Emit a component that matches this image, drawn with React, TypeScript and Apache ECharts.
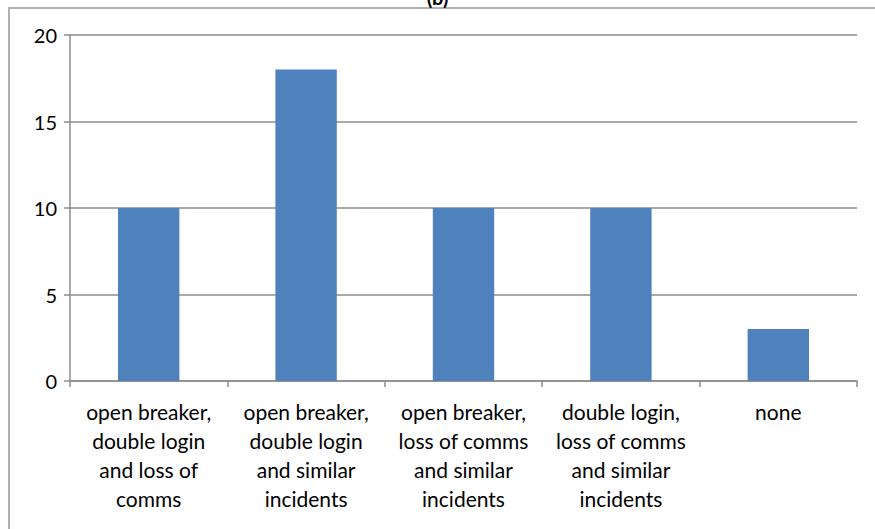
import React, { useEffect, useRef } from "react";
import * as echarts from "echarts";

const categories = [
  "open breaker,\ndouble login\nand loss of\ncomms",
  "open breaker,\ndouble login\nand similar\nincidents",
  "open breaker,\nloss of comms\nand similar\nincidents",
  "double login,\nloss of comms\nand similar\nincidents",
  "none",
];
const values = [10, 18, 10, 10, 3];
const titleText = "(b)";

export default function App() {
  const ref = useRef<HTMLDivElement>(null);
  useEffect(() => {
    if (!ref.current) return;
    const chart = echarts.init(ref.current, null, { renderer: "svg" });
    const font = "Lato, 'Open Sans', sans-serif";
    chart.setOption({
      animation: false,
      backgroundColor: "#ffffff",
      title: {
        text: titleText,
        left: "center",
        top: -18,
        textStyle: { fontFamily: font, fontSize: 20, fontWeight: "bold", color: "#000" },
      },
      graphic: [
        {
          type: "rect",
          shape: { x: 9, y: 8, width: 900, height: 600 },
          style: { fill: "none", stroke: "#b0b0b0", lineWidth: 2 },
          silent: true,
        },
      ],
      grid: { left: 70, right: 18, top: 35, bottom: 148, containLabel: false },
      xAxis: {
        type: "category",
        data: categories,
        axisLine: { lineStyle: { color: "#8c8c8c", width: 1.5 } },
        axisTick: { show: true, length: 6, lineStyle: { color: "#8c8c8c", width: 1.5 } },
        axisLabel: {
          interval: 0,
          margin: 16,
          fontFamily: font,
          fontSize: 21,
          lineHeight: 29,
          color: "#000",
          align: "center",
        },
      },
      yAxis: {
        type: "value",
        min: 0,
        max: 20,
        interval: 5,
        axisLine: { show: true, lineStyle: { color: "#8c8c8c", width: 1.5 } },
        axisTick: { show: true, length: 6, lineStyle: { color: "#8c8c8c", width: 1.5 } },
        splitLine: { lineStyle: { color: "#8c8c8c", width: 1.5 } },
        axisLabel: { fontFamily: font, fontSize: 20, color: "#000", margin: 13 },
      },
      series: [
        {
          type: "bar",
          data: values,
          barWidth: "39%",
          itemStyle: { color: "#4f81bd" },
        },
      ],
    });
    return () => chart.dispose();
  }, []);
  return (
    <div
      ref={ref}
      style={{ position: "fixed", left: 0, top: 0, width: 875, height: 529 }}
    />
  );
}
